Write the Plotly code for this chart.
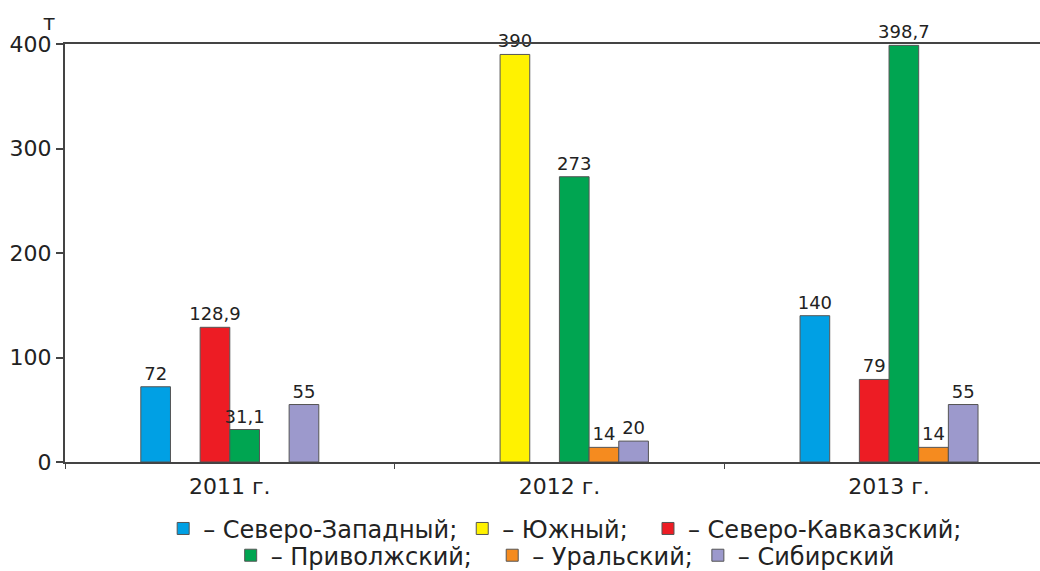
import plotly.graph_objects as go

# годы
years = ["2011 г.", "2012 г.", "2013 г."]

# значения по федеральным округам, т
sev_zap = [72, None, 140]
yuzh = [None, 390, None]
sev_kavk = [128.9, None, 79]
privolzh = [31.1, 273, 398.7]
ural = [None, 14, 14]
sibir = [55, 20, 55]

colors = ["#00a0e4", "#fff200", "#ed1c24", "#00a551", "#f58b1f", "#9c99cc"]

series = [sev_zap, yuzh, sev_kavk, privolzh, ural, sibir]
legend_names = ["– Северо-Западный;", "– Южный;\u00a0\u00a0", "– Северо-Кавказский;",
                "– Приволжский;\u00a0\u00a0", "– Уральский;", "– Сибирский"]
# первые три в верхней строке легенды, остальные во второй
legend_ids = ["legend", "legend", "legend", "legend2", "legend2", "legend2"]

FONT = "DejaVu Sans, sans-serif"


def fmt(v):
    if v is None:
        return ""
    return f"{v:g}".replace(".", ",")


fig = go.Figure()
for vals, name, col, lg in zip(series, legend_names, colors, legend_ids):
    fig.add_trace(go.Bar(x=years, y=vals, name=name, legend=lg,
                         marker=dict(color=col, line=dict(color="#555555", width=1)),
                         text=[fmt(v) for v in vals], textposition="outside", constraintext="none",
                         textfont=dict(size=18, color="#222222", family=FONT), cliponaxis=False))

leg = dict(orientation="h", xanchor="center", yanchor="middle", x=0.513,
           font=dict(size=24, family=FONT, color="#222222"), itemwidth=30, traceorder="normal",
           bgcolor="rgba(0,0,0,0)")

fig.update_layout(
    width=1040, height=571,
    barmode="group", bargap=0.46, bargroupgap=0,
    plot_bgcolor="white", paper_bgcolor="white",
    font=dict(family=FONT, color="#222222"),
    margin=dict(l=65, r=0, t=44, b=109, autoexpand=False),
    showlegend=True,
    legend=dict(leg, y=-0.160),
    legend2=dict(leg, y=-0.224),
)
fig.update_xaxes(type="category", range=[-0.5, 2.458], showline=True, linecolor="#444444", linewidth=2,
                 mirror=True, ticks="outside", tickson="boundaries", ticklen=5, tickcolor="#444444",
                 tickfont=dict(size=22), ticklabelstandoff=4, showgrid=False)
fig.update_yaxes(range=[0, 400], dtick=100, showline=True, linecolor="#444444", linewidth=2,
                 ticks="outside", ticklen=7, tickcolor="#444444", tickwidth=2, tickfont=dict(size=22),
                 showgrid=False, zeroline=False)
fig.add_annotation(text="т", xref="paper", yref="paper", x=-24 / 976, y=1.05, yanchor="middle",
                   showarrow=False, font=dict(size=21, family=FONT))

# убрать отступ body, чтобы график начинался с левого верхнего угла
fig.write_html("out.html", config={"displayModeBar": False},
               post_script="document.body.style.margin='0';")
